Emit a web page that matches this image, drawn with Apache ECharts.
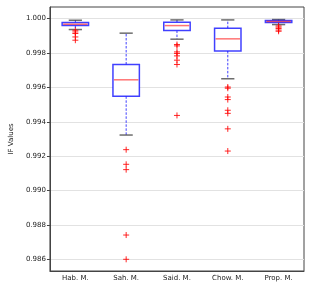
<!DOCTYPE html>
<html>
<head>
<meta charset="utf-8">
<script src="https://cdn.jsdelivr.net/npm/echarts@6/dist/echarts.min.js"></script>
<style>html,body{margin:0;padding:0;background:#fff}#c{width:311px;height:288px}</style>
</head>
<body>
<div id="c"></div>
<script>
var categories = ['Hab. M.', 'Sah. M.', 'Said. M.', 'Chow. M.', 'Prop. M.'];
// [lower whisker, Q1, median, Q3, upper whisker]
var habStats  = [0.99936, 0.99959, 0.99967, 0.99977, 0.99990];
var sahStats  = [0.99323, 0.99548, 0.99644, 0.99733, 0.99915];
var saidStats = [0.99880, 0.99930, 0.99959, 0.99979, 0.99992];
var chowStats = [0.99650, 0.99812, 0.99882, 0.99944, 0.99992];
var propStats = [0.99965, 0.99977, 0.99983, 0.99988, 0.99994];
var habOut  = [0.99932, 0.99922, 0.99913, 0.99893, 0.99874];
var sahOut  = [0.99238, 0.99153, 0.99122, 0.98742, 0.98601];
var saidOut = [0.99849, 0.99841, 0.99806, 0.99797, 0.99783, 0.99758, 0.99733, 0.99437];
var chowOut = [0.99602, 0.99595, 0.99544, 0.99529, 0.99467, 0.99449, 0.99359, 0.99230];
var propOut = [0.99957, 0.99950, 0.99942, 0.99933, 0.99926];
var yTicks = [0.986, 0.988, 0.990, 0.992, 0.994, 0.996, 0.998, 1.000];

var stats = [habStats, sahStats, saidStats, chowStats, propStats];
var outs = [habOut, sahOut, saidOut, chowOut, propOut];
var boxData = stats.map(function (s, i) { return [i].concat(s); });
var outData = [];
outs.forEach(function (o, i) { o.forEach(function (v) { outData.push([i, v]); }); });

var font = 'DejaVu Sans';
var chart = echarts.init(document.getElementById('c'), null, {renderer: 'canvas'});
chart.setOption({
  animation: false,
  grid: {left: 38, right: 7, top: 7, bottom: 17, show: true, borderColor: '#444', borderWidth: 1, backgroundColor: 'transparent'},
  xAxis: {
    type: 'category', data: categories, boundaryGap: true,
    axisLine: {lineStyle: {color: '#444', width: 1}},
    axisTick: {alignWithLabel: true, length: 3, lineStyle: {color: '#444'}},
    axisLabel: {fontFamily: font, fontSize: 7, color: '#222', margin: 4},
    splitLine: {show: false}
  },
  yAxis: {
    type: 'value', min: 0.98533, max: 1.00067,
    name: 'IF Values', nameLocation: 'middle', nameGap: 29,
    nameTextStyle: {fontFamily: font, fontSize: 7, color: '#222'},
    axisLine: {show: true, lineStyle: {color: '#444', width: 1}},
    axisTick: {show: true, length: 3, lineStyle: {color: '#444'},
      customValues: yTicks},
    axisLabel: {fontFamily: font, fontSize: 7, color: '#222', margin: 4,
      customValues: yTicks,
      formatter: function (v) { return v.toFixed(3); }},
    splitLine: {show: true, lineStyle: {color: '#e2e2e2', width: 1}}
  },
  series: [
    {
      type: 'custom', data: boxData, z: 3,
      renderItem: function (params, api) {
        var x = api.value(0);
        var pMin = api.coord([x, api.value(1)]);
        var pQ1 = api.coord([x, api.value(2)]);
        var pMed = api.coord([x, api.value(3)]);
        var pQ3 = api.coord([x, api.value(4)]);
        var pMax = api.coord([x, api.value(5)]);
        var w = api.size([1, 0])[0] * 0.52;
        var cw = w * 0.5;
        var cx = pMed[0];
        var blue = 'rgba(0,0,255,0.75)';
        return {
          type: 'group',
          children: [
            {type: 'line', shape: {x1: cx, y1: pQ3[1], x2: cx, y2: pMax[1]}, style: {stroke: blue, lineWidth: 1, lineDash: [2.5, 1.5]}},
            {type: 'line', shape: {x1: cx, y1: pQ1[1], x2: cx, y2: pMin[1]}, style: {stroke: blue, lineWidth: 1, lineDash: [2.5, 1.5]}},
            {type: 'line', shape: {x1: cx - cw / 2, y1: pMax[1], x2: cx + cw / 2, y2: pMax[1]}, style: {stroke: 'rgba(60,60,60,0.75)', lineWidth: 1.5}},
            {type: 'line', shape: {x1: cx - cw / 2, y1: pMin[1], x2: cx + cw / 2, y2: pMin[1]}, style: {stroke: 'rgba(60,60,60,0.75)', lineWidth: 1.5}},
            {type: 'rect', shape: {x: cx - w / 2, y: pQ3[1], width: w, height: pQ1[1] - pQ3[1]}, style: {fill: '#fff', stroke: blue, lineWidth: 1.5}},
            {type: 'line', shape: {x1: cx - w / 2 + 1, y1: pMed[1], x2: cx + w / 2 - 1, y2: pMed[1]}, style: {stroke: 'rgba(255,0,0,0.55)', lineWidth: 1.5}}
          ]
        };
      }
    },
    {
      type: 'custom', data: outData, z: 4,
      renderItem: function (params, api) {
        var p = api.coord([api.value(0), api.value(1)]);
        var s = 3;
        var red = 'rgba(255,0,0,0.85)';
        return {
          type: 'group',
          children: [
            {type: 'line', shape: {x1: p[0] - s, y1: p[1], x2: p[0] + s, y2: p[1]}, style: {stroke: red, lineWidth: 1}},
            {type: 'line', shape: {x1: p[0], y1: p[1] - s, x2: p[0], y2: p[1] + s}, style: {stroke: red, lineWidth: 1}}
          ]
        };
      }
    }
  ]
});
</script>
</body>
</html>
